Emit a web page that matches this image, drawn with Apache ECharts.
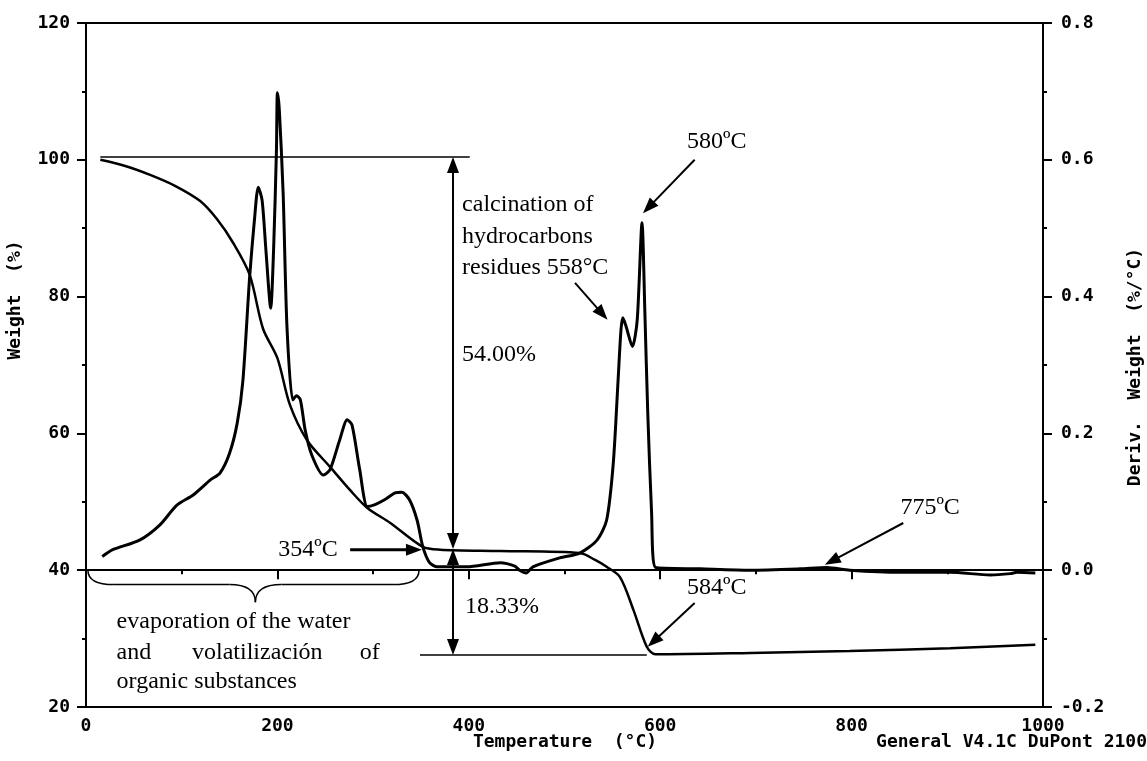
<!DOCTYPE html>
<html>
<head>
<meta charset="utf-8">
<script src="https://cdn.jsdelivr.net/npm/echarts@6/dist/echarts.min.js"></script>
<style>
  html, body { margin: 0; padding: 0; background: #fff; }
  #chart-container { width: 1147px; height: 761px; }
</style>
</head>
<body>
<div id="chart-container"></div>
<script>
// TGA weight curve (left axis, %)
var weightTemp = [15, 41, 67, 93, 119, 137, 154, 171, 185, 200, 213, 231, 255, 276, 294, 318, 352, 370, 433, 516, 532, 544, 558, 572, 586, 595, 694, 798, 903, 992];
var weightPct = [100.0, 99.1, 97.8, 96.2, 94.0, 91.3, 87.8, 83.2, 75.3, 71.0, 64.2, 59.0, 55.1, 51.7, 49.1, 46.9, 43.4, 43.0, 42.8, 42.5, 41.5, 40.5, 39.0, 34.2, 28.8, 27.7, 27.9, 28.2, 28.6, 29.1];

// DTG curve (right axis, %/°C)
var derivTemp = [17, 28, 56, 77, 95, 112, 130, 140, 150, 158, 164, 171, 176, 180, 184, 188, 193, 196, 199, 200, 202, 206, 210, 216, 220, 224, 229, 236, 248, 255, 265, 273, 278, 286, 294, 302, 312, 323, 330, 338, 346, 352, 359, 367, 398, 433, 448, 453, 460, 467, 495, 516, 534, 544, 551, 556, 559, 561, 564, 571, 576, 581, 584, 587, 591, 595, 642, 694, 746, 774, 798, 851, 903, 945, 966, 973, 992];
var derivVals = [0.020, 0.030, 0.044, 0.066, 0.095, 0.110, 0.132, 0.142, 0.171, 0.215, 0.278, 0.429, 0.512, 0.560, 0.541, 0.468, 0.383, 0.468, 0.614, 0.698, 0.673, 0.551, 0.356, 0.249, 0.255, 0.249, 0.205, 0.168, 0.139, 0.147, 0.190, 0.220, 0.212, 0.147, 0.093, 0.096, 0.103, 0.113, 0.114, 0.103, 0.073, 0.034, 0.011, 0.005, 0.005, 0.011, 0.006, 0.000, -0.004, 0.005, 0.018, 0.025, 0.044, 0.073, 0.157, 0.278, 0.351, 0.369, 0.358, 0.327, 0.366, 0.508, 0.376, 0.230, 0.084, 0.004, 0.002, 0.000, 0.002, 0.004, 0.000, -0.003, -0.003, -0.007, -0.005, -0.003, -0.004];

var tempTicks = [0, 200, 400, 600, 800, 1000];

function zip(xs, ys) {
    var out = [];
    for (var i = 0; i < xs.length; i++) {
        out.push([xs[i], ys[i]]);
    }
    return out;
}

var chartDom = document.getElementById('chart-container');
var myChart = echarts.init(chartDom);

var axisFont = {
    fontFamily: 'DejaVu Sans Mono',
    fontWeight: 'bold',
    fontSize: 18,
    color: '#000'
};
var blackLine = { color: '#000', width: 2 };

var option = {
    animation: false,
    backgroundColor: '#fff',
    grid: {
        left: 86,
        right: 104,
        top: 23,
        bottom: 54,
        show: true,
        borderColor: '#000',
        borderWidth: 2
    },
    xAxis: {
        type: 'value',
        min: tempTicks[0],
        max: tempTicks[tempTicks.length - 1],
        interval: 200,
        axisLine: { show: true, lineStyle: blackLine },
        axisTick: { show: true, inside: false, length: 9, lineStyle: blackLine },
        minorTick: { show: true, splitNumber: 2, length: 4, lineStyle: blackLine },
        splitLine: { show: false },
        axisLabel: Object.assign({
            margin: 10,
            formatter: function (v) { return String(v); }
        }, axisFont)
    },
    yAxis: [
        {
            type: 'value',
            min: 20,
            max: 120,
            interval: 20,
            axisLine: { show: true, lineStyle: blackLine },
            axisTick: { show: true, inside: false, length: 9, lineStyle: blackLine },
            minorTick: { show: true, splitNumber: 2, length: 4, lineStyle: blackLine },
            splitLine: { show: false },
            axisLabel: Object.assign({ margin: 16 }, axisFont)
        },
        {
            type: 'value',
            position: 'right',
            min: -0.2,
            max: 0.8,
            interval: 0.2,
            axisLine: { show: true, lineStyle: blackLine },
            axisTick: { show: true, inside: false, length: 9, lineStyle: blackLine },
            minorTick: { show: true, splitNumber: 2, length: 4, lineStyle: blackLine },
            splitLine: { show: false },
            axisLabel: Object.assign({
                margin: 18,
                formatter: function (v) { return v.toFixed(1); }
            }, axisFont)
        }
    ],
    series: [
        {
            name: 'Weight',
            type: 'line',
            yAxisIndex: 0,
            data: zip(weightTemp, weightPct),
            smooth: 0.3,
            symbol: 'none',
            lineStyle: { color: '#000', width: 2.5 }
        },
        {
            name: 'Deriv. Weight',
            type: 'line',
            yAxisIndex: 1,
            data: zip(derivTemp, derivVals),
            smooth: 0.25,
            symbol: 'none',
            lineStyle: { color: '#000', width: 3 }
        }
    ]
};
myChart.setOption(option);

// annotations, placed in data units (temperature, weight %)
function px(t, w) {
    return myChart.convertToPixel({ xAxisIndex: 0, yAxisIndex: 0 }, [t, w]);
}

var serif = '24px "Liberation Serif", "Times New Roman", serif';
var els = [];

function addLine(a, b, w) {
    els.push({
        type: 'line', silent: true,
        shape: { x1: a[0], y1: a[1], x2: b[0], y2: b[1] },
        style: { stroke: '#000', lineWidth: w || 1.5 }
    });
}

function addCurve(a, c, b) {
    els.push({
        type: 'bezierCurve', silent: true,
        shape: { x1: a[0], y1: a[1], cpx1: c[0], cpy1: c[1], x2: b[0], y2: b[1] },
        style: { stroke: '#000', fill: null, lineWidth: 1.5 }
    });
}

function headAt(tip, from) {
    var dx = tip[0] - from[0], dy = tip[1] - from[1];
    var len = Math.sqrt(dx * dx + dy * dy);
    dx /= len; dy /= len;
    var hl = 16, hw = 12;
    var bx = tip[0] - dx * hl, by = tip[1] - dy * hl;
    els.push({
        type: 'polygon', silent: true,
        shape: { points: [tip, [bx - dy * hw / 2, by + dx * hw / 2], [bx + dy * hw / 2, by - dx * hw / 2]] },
        style: { fill: '#000' }
    });
    return [bx + dx * 2, by + dy * 2];
}

function arrow(a, b, both, w) {
    var p = px(a[0], a[1]), q = px(b[0], b[1]);
    var q2 = headAt(q, p);
    var p2 = both ? headAt(p, q) : p;
    addLine(p2, q2, w || 2);
}

function text(str, t, w, align) {
    var p = px(t, w);
    els.push({
        type: 'text', silent: true,
        x: p[0], y: p[1],
        style: { text: str, font: serif, fill: '#000', align: align || 'left', verticalAlign: 'middle' }
    });
}

function title(str, x, y, rot, align) {
    els.push({
        type: 'text', silent: true,
        x: x, y: y, rotation: rot || 0,
        style: {
            text: str, fill: '#000', align: align || 'center', verticalAlign: 'middle',
            font: 'bold 18px "DejaVu Sans Mono", monospace'
        }
    });
}

// reference lines and double arrows for the two losses
addLine(px(15, 100.4), px(401, 100.4), 1.5);
addLine(px(349, 27.6), px(586, 27.6), 1.5);
arrow([383.5, 43.1], [383.5, 100.4], true, 2);
arrow([383.5, 43.1], [383.5, 27.6], true, 2);

// pointer arrows
arrow([276, 43.0], [351, 43.0], false, 3);
arrow([636, 100.0], [582, 92.2], false, 2);
arrow([511, 82.0], [545, 76.6], false, 2);
arrow([636, 35.2], [587, 28.8], false, 2);
arrow([854, 46.9], [772, 40.8], false, 2);

// brace under the first stage
(function () {
    var l = px(2, 40.0), r = px(348, 40.0), tip = px(177, 35.3), mid = px(177, 37.9);
    var ym = mid[1], rr = 26;
    addCurve(l, [l[0], ym], [l[0] + rr, ym]);
    addLine([l[0] + rr, ym], [tip[0] - rr, ym], 1.5);
    addCurve([tip[0] - rr, ym], [tip[0], ym], tip);
    addCurve(tip, [tip[0], ym], [tip[0] + rr, ym]);
    addLine([tip[0] + rr, ym], [r[0] - rr, ym], 1.5);
    addCurve([r[0] - rr, ym], [r[0], ym], r);
})();

text('580ºC', 628, 102.6);
text('calcination of', 393, 93.4);
text('hydrocarbons', 393, 88.7);
text('residues 558°C', 393, 84.2);
text('54.00%', 393, 71.5);
text('354ºC', 263, 43.0, 'right');
text('18.33%', 396, 34.6);
text('584ºC', 628, 37.4);
text('775ºC', 851, 49.1);
text('evaporation of the water', 32, 32.4);
text('and', 32, 28.0);
text('volatilización', 179, 28.0, 'center');
text('of', 307, 28.0, 'right');
text('organic substances', 32, 23.7);

// axis titles
title('Weight  (%)', 15, 300, Math.PI / 2);
title('Temperature  (°C)', 565, 742, 0);
title('Deriv.  Weight  (%/°C)', 1135, 367, Math.PI / 2);
title('General V4.1C DuPont 2100', 1147, 742, 0, 'right');

myChart.setOption({ graphic: { elements: els } });
</script>
</body>
</html>
